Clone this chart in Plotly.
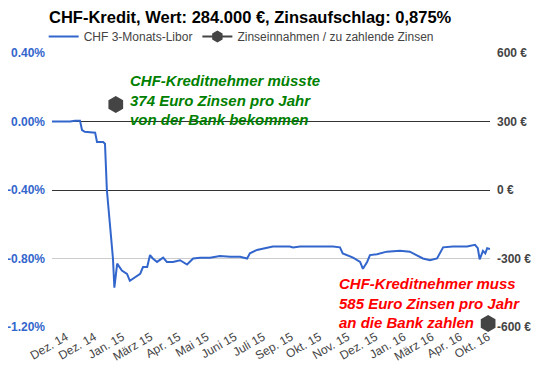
import plotly.graph_objects as go

# ---- data ----
# position along the (discrete) time axis, in category steps
libor_x = [0, 3.84, 4.9, 5.97, 6.4, 7.0, 9.2, 9.6, 10.9, 11.3, 11.7, 13.0, 13.3, 13.9,
           14.9, 16.0, 16.6, 17.7, 18.8, 19.4, 20.3, 20.9, 21.5, 22.4, 23.7, 24.5, 25.8,
           27.3, 28.8, 30.1, 31.6, 33.7, 35.8, 38.0, 40.1, 41.6, 42.2, 43.7, 45.8, 47.1,
           50.7, 51.4, 52.9, 57.1, 59.9, 61.4, 62.0, 64.2, 65.7, 66.3, 67.2, 67.8, 69.3,
           71.4, 74.2, 76.3, 77.8, 79.1, 80.6, 82.1, 83.4, 85.5, 88.5, 90.2, 90.8, 91.2,
           91.9, 92.4, 92.8, 93.4]
libor_pct = [0.00, 0.00, 0.005, 0.005, -0.05, -0.06, -0.065, -0.12, -0.12, -0.13, -0.40,
             -0.80, -0.97, -0.83, -0.87, -0.89, -0.93, -0.91, -0.89, -0.85, -0.85, -0.78,
             -0.80, -0.82, -0.795, -0.82, -0.82, -0.81, -0.835, -0.80, -0.795, -0.795,
             -0.785, -0.79, -0.79, -0.80, -0.77, -0.75, -0.74, -0.73, -0.73, -0.735,
             -0.73, -0.73, -0.73, -0.735, -0.77, -0.795, -0.82, -0.86, -0.82, -0.78,
             -0.775, -0.76, -0.755, -0.76, -0.78, -0.80, -0.81, -0.80, -0.735, -0.73,
             -0.73, -0.72, -0.74, -0.805, -0.755, -0.77, -0.74, -0.745]

zins_x = [13.6, 93.0]
zins_eur = [374, -585]

tick_pos = [3 + 6 * k for k in range(16)]
tick_labels = ["Dez. 14", "Dez. 14", "Jan. 15", "März 15", "Apr. 15", "Mai 15",
               "Juni 15", "Juli 15", "Sep. 15", "Okt. 15", "Nov. 15", "Dez. 15",
               "Jan. 16", "März 16", "Apr. 16", "Okt. 16"]

left_ticks = [0.4, 0.0, -0.4, -0.8, -1.2]
left_labels = ["0.40%", "0.00%", "-0.40%", "-0.80%", "-1.20%"]
right_ticks = [600, 300, 0, -300, -600]
right_labels = ["600 €", "300 €", "0 €", "-300 €", "-600 €"]

FONT = "Liberation Sans, Arial, sans-serif"

# the page body has an 8px default margin, so the figure is 8px smaller
W, H = 538, 363

fig = go.Figure()
fig.add_trace(go.Scatter(
    x=libor_x, y=libor_pct, mode="lines", name="CHF 3-Monats-Libor",
    line=dict(color="#3366cc", width=2), yaxis="y"))
fig.add_trace(go.Scatter(
    x=zins_x, y=zins_eur, mode="markers", name="Zinseinnahmen / zu zahlende Zinsen",
    marker=dict(symbol="hexagon", size=17, color="#444444"),
    yaxis="y2", showlegend=False, cliponaxis=False))
# legend entry (line + marker) for the second series
fig.add_trace(go.Scatter(
    x=[None], y=[None], mode="lines+markers", name="Zinseinnahmen / zu zahlende Zinsen",
    line=dict(color="#444444", width=2),
    marker=dict(symbol="hexagon", size=12, color="#444444"), yaxis="y2"))

fig.update_layout(
    width=W, height=H,
    margin=dict(l=44, r=56, t=45, b=44, autoexpand=False),
    paper_bgcolor="white", plot_bgcolor="white",
    font=dict(family=FONT, size=12, color="#444444"),
    title=dict(text="<b>CHF-Kredit, Wert: 284.000 €, Zinsaufschlag: 0,875%</b>",
               x=41 / W, xanchor="left", y=1 - 9 / H, yanchor="middle",
               font=dict(family=FONT, size=16.5, color="#000000")),
    showlegend=True,
    legend=dict(orientation="h", x=-0.019, xanchor="left", y=1.06, yanchor="middle",
                font=dict(family=FONT, size=12, color="#444444"),
                bgcolor="rgba(0,0,0,0)", itemwidth=30, tracegroupgap=0),
    xaxis=dict(range=[0, 93.4], tickmode="array", tickvals=tick_pos, ticktext=tick_labels,
               tickangle=-30, showgrid=False, zeroline=False, showline=False,
               ticks="", automargin=False,
               tickfont=dict(family=FONT, size=12, color="#444444")),
    yaxis=dict(range=[-1.2, 0.4], tickmode="array", tickvals=left_ticks, ticktext=left_labels,
               showgrid=True, gridcolor="#cccccc", gridwidth=1,
               zeroline=True, zerolinecolor="#333333", zerolinewidth=1,
               showline=False, ticks="", automargin=False, ticklabelstandoff=6,
               tickfont=dict(family=FONT, size=12, color="#3366cc", weight="bold")),
    yaxis2=dict(range=[-600, 600], overlaying="y", side="right", tickmode="array",
                tickvals=right_ticks, ticktext=right_labels, showgrid=False,
                zeroline=True, zerolinecolor="#333333", zerolinewidth=1,
                showline=False, ticks="", automargin=False, ticklabelstandoff=6,
                tickfont=dict(family=FONT, size=12, color="#444444", weight="bold")),
)

fig.add_annotation(
    x=16.2, y=0.30, xref="x", yref="y", xanchor="left", yanchor="top", align="left",
    showarrow=False,
    text="<b><i>CHF-Kreditnehmer müsste<br>374 Euro Zinsen pro Jahr<br>von der Bank bekommen</i></b>",
    font=dict(family=FONT, size=15, color="#008000"))
fig.add_annotation(
    x=60.8, y=-0.885, xref="x", yref="y", xanchor="left", yanchor="top", align="left",
    showarrow=False,
    text="<b><i>CHF-Kreditnehmer muss<br>585 Euro Zinsen pro Jahr<br>an die Bank zahlen</i></b>",
    font=dict(family=FONT, size=15, color="#ff0000"))

fig.write_html("out.html")
